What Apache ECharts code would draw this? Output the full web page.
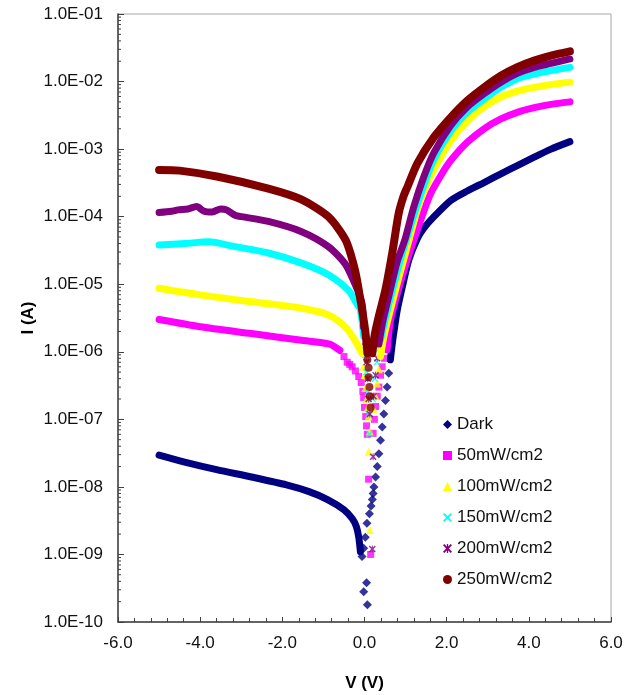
<!DOCTYPE html>
<html>
<head>
<meta charset="utf-8">
<script src="https://cdn.jsdelivr.net/npm/echarts@6/dist/echarts.min.js"></script>
<style>
  html, body { margin: 0; padding: 0; background: #fff; }
  #chart { width: 636px; height: 695px; }
</style>
</head>
<body>
<div id="chart"></div>
<script>
// [V, I] pairs; "Left"/"Right" are the smooth branches, "Dots" the scattered points near 0 V
const seriesNames = ['Dark', '50mW/cm2', '100mW/cm2', '150mW/cm2', '200mW/cm2', '250mW/cm2'];

const darkLeft = [[-5.0,2.95e-8],[-4.4,2.35e-8],[-3.6,1.8e-8],[-2.75,1.4e-8],[-1.9,1.07e-8],[-1.35,8.5e-9],[-0.9,6.5e-9],[-0.5,4.6e-9],[-0.3,3.4e-9],[-0.2,2.6e-9],[-0.14,1.8e-9],[-0.1,1.1e-9]];
const darkDots = [[-0.06,9.3e-10],[-0.02,1.23e-9],[0.02,1.8e-9],[0.06,2.9e-9],[0.05,3.8e-10],[-0.02,2.8e-10],[0.07,1.8e-10],[0.12,4e-9],[0.16,5.2e-9],[0.19,6.5e-9],[0.21,8e-9],[0.23,1e-8],[0.27,1.4e-8],[0.31,2e-8],[0.35,3.1e-8],[0.39,4.9e-8],[0.43,7.7e-8],[0.47,1.2e-7],[0.51,1.9e-7],[0.55,3e-7],[0.59,4.8e-7]];
const darkRight = [[0.63,7.6e-7],[0.66,1.1e-6],[0.71,1.86e-6],[0.8,4.2e-6],[0.92,9.1e-6],[1.08,2.3e-5],[1.29,4.8e-5],[1.45,6.8e-5],[1.69,1.0e-4],[2.1,1.74e-4],[2.5,2.4e-4],[2.91,3.2e-4],[3.32,4.3e-4],[3.72,5.7e-4],[4.13,7.6e-4],[4.54,1.0e-3],[5.0,1.29e-3]];

const m50Left = [[-5.0,3.0e-6],[-4.0,2.35e-6],[-2.75,1.86e-6],[-1.53,1.48e-6],[-0.85,1.3e-6],[-0.6,1.05e-6]];
const m50Dots = [[-0.5,8.5e-7],[-0.42,7.0e-7],[-0.36,6.5e-7],[-0.3,6.0e-7],[-0.22,5.2e-7],[-0.14,4.3e-7],[-0.08,3.5e-7],[-0.04,2.6e-7],[-0.02,2.1e-7],[0.0,1.5e-7],[0.03,1.1e-7],[0.05,8e-8],[0.07,6e-8],[0.1,1.3e-8],[0.15,1.0e-9],[0.21,6.2e-8],[0.24,1.0e-7],[0.27,1.55e-7],[0.31,2.2e-7],[0.35,3.0e-7],[0.39,4.5e-7],[0.43,6e-7],[0.49,8e-7]];
const m50Right = [[0.55,1.07e-6],[0.63,2.9e-6],[0.8,7.4e-6],[1.04,2.3e-5],[1.2,4.5e-5],[1.37,9e-5],[1.61,2.2e-4],[1.93,4.8e-4],[2.1,6.8e-4],[2.5,1.26e-3],[2.91,2.0e-3],[3.32,2.8e-3],[3.72,3.5e-3],[4.13,4.1e-3],[4.54,4.6e-3],[5.0,5.0e-3]];

const y100Left = [[-5.0,8.7e-6],[-3.97,6.9e-6],[-2.75,5.5e-6],[-1.53,4.4e-6],[-0.88,3.5e-6],[-0.47,2.35e-6],[-0.27,1.6e-6],[-0.15,1.2e-6],[-0.06,9.5e-7]];
const y100Dots = [[-0.03,6e-7],[0.0,4.5e-7],[0.02,2.9e-7],[0.05,2.0e-7],[0.08,1.5e-7],[0.1,1.1e-7],[0.13,6.6e-8],[0.1,3.3e-8],[0.13,2.3e-9],[0.23,1.4e-7],[0.27,2.2e-7],[0.31,3.4e-7],[0.35,5.5e-7]];
const y100Right = [[0.39,8.5e-7],[0.47,1.66e-6],[0.63,4.2e-6],[0.84,1.3e-5],[1.04,3.6e-5],[1.29,1.3e-4],[1.45,2.4e-4],[1.69,5.0e-4],[2.1,1.33e-3],[2.5,2.6e-3],[2.91,4.2e-3],[3.32,5.9e-3],[3.72,7.2e-3],[4.13,8.2e-3],[4.54,9.0e-3],[5.0,9.8e-3]];

const c150Left = [[-5.0,3.8e-5],[-4.37,4.0e-5],[-3.8,4.25e-5],[-3.15,3.6e-5],[-2.34,2.9e-5],[-1.53,2.05e-5],[-0.88,1.38e-5],[-0.39,8.1e-6],[-0.19,5.2e-6],[-0.1,4.2e-6],[-0.02,1.7e-6]];
const c150Dots = [[0.02,9e-7],[0.05,5e-7],[0.08,2.5e-7],[0.1,1.2e-7],[0.12,6e-8],[0.2,2e-7],[0.25,4e-7],[0.3,7e-7],[0.35,1.1e-6]];
const c150Right = [[0.39,1.5e-6],[0.51,3.2e-6],[0.68,8.3e-6],[0.88,2.4e-5],[1.0,4.2e-5],[1.24,1.26e-4],[1.45,3.0e-4],[1.69,7.1e-4],[2.1,1.86e-3],[2.5,3.5e-3],[2.91,5.5e-3],[3.32,8.2e-3],[3.72,1.1e-2],[4.13,1.29e-2],[4.54,1.45e-2],[5.0,1.62e-2]];

const p200Left = [[-5.0,1.15e-4],[-4.7,1.2e-4],[-4.54,1.26e-4],[-4.3,1.3e-4],[-4.09,1.41e-4],[-3.9,1.2e-4],[-3.72,1.17e-4],[-3.5,1.3e-4],[-3.36,1.26e-4],[-3.15,1.05e-4],[-2.99,1.0e-4],[-2.34,8.5e-5],[-1.53,6.0e-5],[-0.88,3.6e-5],[-0.47,2.0e-5],[-0.23,1.0e-5],[-0.06,5.2e-6],[-0.02,2.3e-6]];
const p200Dots = [[0.02,1.2e-6],[0.05,7e-7],[0.08,4e-7],[0.1,2e-7],[0.13,1.2e-7],[0.21,2.8e-8],[0.19,1.2e-9],[0.22,2.2e-7],[0.27,4.5e-7],[0.31,8e-7]];
const p200Right = [[0.35,1.3e-6],[0.45,2.9e-6],[0.6,7.0e-6],[0.8,2.2e-5],[0.98,4.5e-5],[1.2,1.4e-4],[1.45,4.0e-4],[1.69,8.9e-4],[2.1,2.24e-3],[2.5,4.2e-3],[2.91,6.6e-3],[3.32,9.8e-3],[3.72,1.32e-2],[4.13,1.62e-2],[4.54,1.86e-2],[5.0,2.16e-2]];

const b250Left = [[-5.0,4.9e-4],[-4.5,4.8e-4],[-3.56,3.9e-4],[-2.34,2.6e-4],[-1.54,1.8e-4],[-0.88,1.0e-4],[-0.46,4.5e-5],[-0.23,1.6e-5],[-0.1,5.9e-6],[0.02,2.0e-6],[0.07,9.5e-7]];
const b250Dots = [[0.07,7.6e-7],[0.1,5.8e-7],[0.1,4.2e-7],[0.12,3e-7],[0.13,2.2e-7],[0.15,1.5e-7]];
const b250Right = [[0.19,9.5e-7],[0.25,1.8e-6],[0.34,3.2e-6],[0.51,8.3e-6],[0.68,3.0e-5],[0.83,1.1e-4],[0.95,2.0e-4],[1.05,2.8e-4],[1.29,6.2e-4],[1.69,1.5e-3],[2.1,2.95e-3],[2.5,5.2e-3],[2.91,8.2e-3],[3.32,1.22e-2],[3.72,1.63e-2],[4.13,2.04e-2],[4.54,2.42e-2],[5.0,2.8e-2]];

const xTicks = [-6, 6, 2];            // min, max, step
const yDecades = [-10, -1];           // log10 range
const minorMult = [2, 3, 4, 5, 6, 7, 8, 9];

const FONT = "'Liberation Sans', Arial, sans-serif";
const xPath = 'path://M0,1.5L1.5,0L5,3.5L8.5,0L10,1.5L6.5,5L10,8.5L8.5,10L5,6.5L1.5,10L0,8.5L3.5,5Z';
const starPath = 'path://M0,1.5L1.5,0L5,3.5L8.5,0L10,1.5L6.5,5L10,8.5L8.5,10L5,6.5L1.5,10L0,8.5L3.5,5Z M4.3,0L5.7,0L5.7,10L4.3,10Z';

const styles = [
  { color: '#000080', symbol: 'diamond', size: 9 },
  { color: '#ff00ff', symbol: 'rect', size: 7 },
  { color: '#ffff00', symbol: 'triangle', size: 8 },
  { color: '#00ffff', symbol: xPath, size: 7 },
  { color: '#800080', symbol: starPath, size: 7 },
  { color: '#800000', symbol: 'circle', size: 8 }
];
const branches = [
  [darkLeft, darkDots, darkRight],
  [m50Left, m50Dots, m50Right],
  [y100Left, y100Dots, y100Right],
  [c150Left, c150Dots, c150Right],
  [p200Left, p200Dots, p200Right],
  [b250Left, b250Dots, b250Right]
];

const series = [];
branches.forEach(function (b, i) {
  const st = styles[i];
  series.push({
    name: seriesNames[i],
    type: 'line',
    data: b[0].concat([[0, '-']], b[2]),
    showSymbol: false,
    connectNulls: false,
    smooth: 0.25,
    itemStyle: { color: st.color },
    lineStyle: { color: st.color, width: i === 5 ? 8 : 7, cap: 'round', join: 'round' }
  });
  series.push({
    name: seriesNames[i],
    type: 'scatter',
    data: b[1],
    symbol: st.symbol,
    symbolSize: st.size,
    itemStyle: { color: st.color }
  });
});

// log minor ticks on the y axis, drawn through the axis scale
const minorVals = [];
for (let e = yDecades[0]; e < yDecades[1]; e++) {
  minorMult.forEach(function (m) { minorVals.push([xTicks[0], m * Math.pow(10, e)]); });
}
series.push({
  type: 'custom',
  silent: true,
  data: minorVals,
  clip: false,
  renderItem: function (params, api) {
    const p = api.coord([api.value(0), api.value(1)]);
    return { type: 'line', shape: { x1: p[0], y1: p[1], x2: p[0] + 3, y2: p[1] }, style: { stroke: '#404040', lineWidth: 1 } };
  }
});

const chart = echarts.init(document.getElementById('chart'));
chart.setOption({
  animation: false,
  textStyle: { fontFamily: FONT },
  grid: { left: 118, right: 25, top: 14, bottom: 73, show: true, borderColor: '#a6a6a6', borderWidth: 1, outerBoundsMode: 'none', containLabel: false },
  legend: {
    left: 443, top: 416, orient: 'vertical', padding: 0,
    itemWidth: 9, itemHeight: 9, itemGap: 14,
    textStyle: { fontSize: 17, color: '#111', fontFamily: FONT, lineHeight: 17 },
    data: seriesNames.map(function (n, i) { return { name: n, icon: styles[i].symbol }; })
  },
  // y-axis title
  graphic: [{
    type: 'text', x: 28, y: 318, rotation: Math.PI / 2, silent: true,
    style: { text: 'I (A)', font: "bold 17px 'Liberation Sans', Arial, sans-serif", fill: '#000', align: 'center', verticalAlign: 'middle' }
  }],
  xAxis: {
    type: 'value', min: xTicks[0], max: xTicks[1], interval: xTicks[2],
    name: 'V (V)', nameLocation: 'middle', nameGap: 53,
    nameTextStyle: { fontSize: 17, fontWeight: 'bold', color: '#000', fontFamily: FONT },
    axisLine: { onZero: false, lineStyle: { color: '#404040', width: 1.5 } },
    axisTick: { inside: true, length: 5, lineStyle: { color: '#404040' } },
    minorTick: { show: true, splitNumber: 5, length: 4, lineStyle: { color: '#404040' } },
    splitLine: { show: false },
    axisLabel: { fontSize: 17, color: '#111', margin: 13, fontFamily: FONT, formatter: function (v) { return v.toFixed(1); } }
  },
  yAxis: {
    type: 'log', logBase: 10, min: Math.pow(10, yDecades[0]), max: Math.pow(10, yDecades[1]), splitNumber: 9,
    axisLine: { onZero: false, lineStyle: { color: '#404040', width: 1.5 } },
    axisTick: { inside: true, length: 6, lineStyle: { color: '#404040' } },
    splitLine: { show: false },
    axisLabel: {
      fontSize: 17, color: '#111', margin: 15, fontFamily: FONT,
      formatter: function (v) {
        const e = Math.round(Math.log10(v));
        return '1.0E' + (e < 0 ? '-' : '+') + String(Math.abs(e)).padStart(2, '0');
      }
    }
  },
  series: series
});
</script>
</body>
</html>
